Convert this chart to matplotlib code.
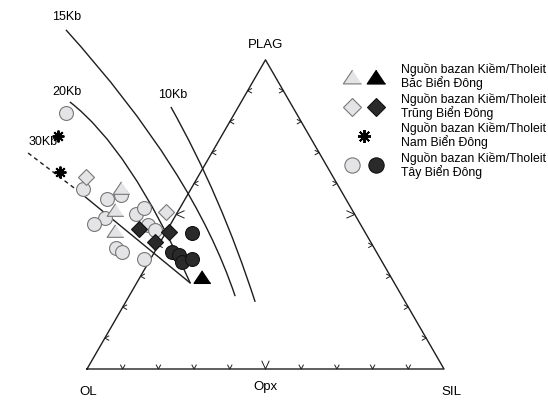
import numpy as np
import matplotlib.pyplot as plt
from matplotlib.path import Path
from matplotlib.patches import PathPatch
from matplotlib.legend_handler import HandlerTuple

plt.rcParams['font.family'] = ['Liberation Sans', 'DejaVu Sans']

# triangle units: OL=(0,0), SIL=(1,0), PLAG=(0.5, sqrt(3)/2)
H = np.sqrt(3) / 2

# Bac Bien Dong (light = kiem, dark = tholeit)
bac_light_x = [0.095, 0.078, 0.078]
bac_light_y = [0.507, 0.445, 0.387]
bac_dark_x = [0.322]
bac_dark_y = [0.258]

# Trung Bien Dong
trung_light_x = [-0.003, 0.221]
trung_light_y = [0.538, 0.440]
trung_dark_x = [0.146, 0.230, 0.190]
trung_dark_y = [0.392, 0.384, 0.356]

# Nam Bien Dong
nam_x = [-0.081, -0.076]
nam_y = [0.653, 0.552]

# Tay Bien Dong
tay_light_x = [-0.059, -0.011, 0.095, 0.056, 0.050, 0.020, 0.081, 0.098,
               0.137, 0.160, 0.171, 0.190, 0.160]
tay_light_y = [0.717, 0.504, 0.487, 0.476, 0.423, 0.406, 0.339, 0.328,
               0.434, 0.451, 0.403, 0.389, 0.308]
tay_dark_x = [0.294, 0.238, 0.258, 0.266, 0.294]
tay_dark_y = [0.381, 0.328, 0.319, 0.300, 0.308]

# cotectic curves: start, middle, end
kb15_x = [-0.059, 0.238, 0.415]
kb15_y = [0.950, 0.566, 0.204]
kb10_x = [0.235, 0.364, 0.471]
kb10_y = [0.734, 0.473, 0.188]
kb20_x = [-0.048, 0.120, 0.289]
kb20_y = [0.748, 0.557, 0.241]
kb30_dash_x = [-0.165, -0.028]
kb30_dash_y = [0.605, 0.501]
kb30_x = [-0.028, 0.289]
kb30_y = [0.501, 0.241]

legend_labels = [
    'Nguồn bazan Kiềm/Tholeit\nBắc Biển Đông',
    'Nguồn bazan Kiềm/Tholeit\nTrũng Biển Đông',
    'Nguồn bazan Kiềm/Tholeit\nNam Biển Đông',
    'Nguồn bazan Kiềm/Tholeit\nTây Biển Đông',
]

LINE = '#1e1e1e'
LIGHT = '#e4e4e6'
LIGHT_EDGE = '#787878'
DARK = '#2a2a2a'


def curve(ax, xs, ys):
    # quadratic bezier that passes through the middle point
    p0 = np.array([xs[0], ys[0]])
    m = np.array([xs[1], ys[1]])
    p2 = np.array([xs[2], ys[2]])
    c = 2 * m - 0.5 * (p0 + p2)
    path = Path([p0, c, p2], [Path.MOVETO, Path.CURVE3, Path.CURVE3])
    ax.add_patch(PathPatch(path, fc='none', ec=LINE, lw=1.0))


fig = plt.figure(figsize=(5.48, 4.0), dpi=100)
ax = fig.add_axes([0, 0, 1, 1])
ax.set_xlim(-87 / 357, 461 / 357)
ax.set_ylim(-31 / 357, 369 / 357)
ax.axis('off')

# triangle
ax.plot([0, 1, 0.5, 0], [0, 0, H, 0], color=LINE, lw=1.0)

# ticks
for f in np.arange(1, 10) / 10:
    big = abs(f - 0.5) < 1e-6
    hw = 0.010 if big else 0.006
    ln = 0.022 if big else 0.011
    ax.plot([f - hw, f, f + hw], [ln, 0, ln], color=LINE, lw=0.7)
    lx, ly = f * 0.5, f * H
    ax.plot([lx + ln, lx, lx + ln], [ly + hw, ly, ly - hw], color=LINE, lw=0.7)
    rx, ry = 1 - f * 0.5, f * H
    ax.plot([rx - ln, rx, rx - ln], [ry + hw, ry, ry - hw], color=LINE, lw=0.7)

# pressure lines
curve(ax, kb15_x, kb15_y)
curve(ax, kb10_x, kb10_y)
curve(ax, kb20_x, kb20_y)
ax.plot(kb30_dash_x, kb30_dash_y, color=LINE, lw=1.0, ls=(0, (3, 2.5)))
ax.plot(kb30_x, kb30_y, color=LINE, lw=1.0)

fs = 9.5
ax.text(-0.056, 0.986, '15Kb', ha='center', va='center', fontsize=9)
ax.text(-0.056, 0.776, '20Kb', ha='center', va='center', fontsize=9)
ax.text(0.241, 0.768, '10Kb', ha='center', va='center', fontsize=9)
ax.text(-0.123, 0.636, '30Kb', ha='center', va='center', fontsize=9)
ax.text(0.5, 0.908, 'PLAG', ha='center', va='center', fontsize=fs)
ax.text(0.003, -0.064, 'OL', ha='center', va='center', fontsize=fs)
ax.text(0.5, -0.050, 'Opx', ha='center', va='center', fontsize=fs)
ax.text(1.022, -0.064, 'SIL', ha='center', va='center', fontsize=fs)

# data points
light = dict(mfc=LIGHT, mec=LIGHT_EDGE, mew=0.8, ls='none')
dark = dict(mfc=DARK, mec='#111111', mew=0.8, ls='none')
tri = [(0, 0.8), (-1, -0.7), (1, -0.7)]

tl, = ax.plot(tay_light_x, tay_light_y, 'o', ms=10, **light)
dl, = ax.plot(trung_light_x, trung_light_y, 'D', ms=8, **light)
bl, = ax.plot(bac_light_x, bac_light_y, marker=tri, ms=12, **light)
td, = ax.plot(tay_dark_x, tay_dark_y, 'o', ms=10, **dark)
dd, = ax.plot(trung_dark_x, trung_dark_y, 'D', ms=8, **dark)
bd, = ax.plot(bac_dark_x, bac_dark_y, marker=tri, ms=12, mfc='black', mec='black', ls='none')
st, = ax.plot(nam_x, nam_y, marker=(8, 2, 0), ms=8.5, mew=1.4, color='black', ls='none')

leg = ax.legend([(bl, bd), (dl, dd), st, (tl, td)], legend_labels,
                handler_map={tuple: HandlerTuple(ndivide=None, pad=0)},
                loc='upper left', bbox_to_anchor=(0.620, 0.8425),
                frameon=False, fontsize=8.8, handlelength=4.0, handletextpad=1.05,
                labelspacing=0.2, borderpad=0, borderaxespad=0, numpoints=1,
                markerscale=1.1)
for t in leg.get_texts():
    t.set_linespacing(1.0)

fig.savefig('out.png', dpi=100)
